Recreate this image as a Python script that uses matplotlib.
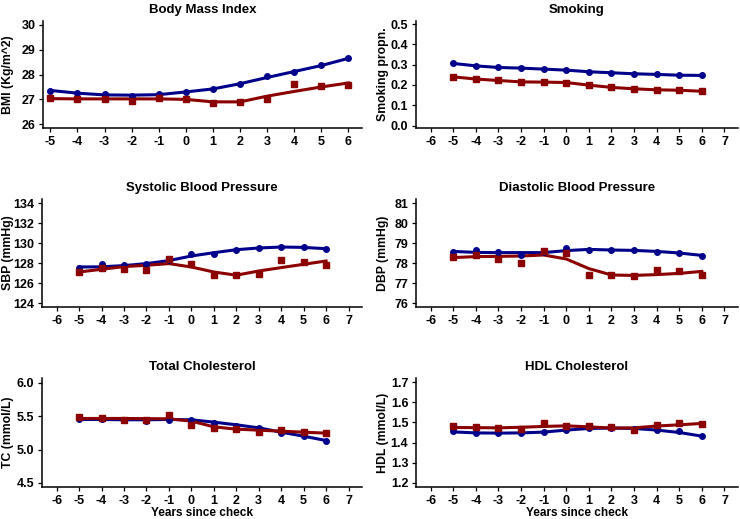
#!/usr/bin/env python
# -*- coding: utf-8 -*-
"""Risk factor trajectories before and after a health check."""
import matplotlib
import matplotlib.pyplot as plt

matplotlib.use("agg")

BLUE = "#00008B"
RED = "#8B0000"

years = [-5, -4, -3, -2, -1, 0, 1, 2, 3, 4, 5, 6]

# Body Mass Index
bmi_blue = [27.35, 27.25, 27.2, 27.15, 27.22, 27.31, 27.42, 27.63, 27.92, 28.1, 28.37, 28.68]
bmi_blue_fit = [27.36, 27.25, 27.18, 27.17, 27.19, 27.3, 27.42, 27.63, 27.88, 28.12, 28.36, 28.65]
bmi_red = [27.05, 27.02, 27.0, 26.94, 27.07, 27.02, 26.86, 26.9, 27.0, 27.6, 27.55, 27.56]
bmi_red_fit = [27.03, 27.02, 27.02, 27.02, 27.02, 27.0, 26.9, 26.9, 27.13, 27.32, 27.5, 27.66]

# Smoking
smk_blue = [0.306, 0.294, 0.286, 0.283, 0.278, 0.273, 0.265, 0.26, 0.255, 0.252, 0.248, 0.247]
smk_red = [0.24, 0.229, 0.222, 0.215, 0.214, 0.212, 0.199, 0.188, 0.181, 0.176, 0.174, 0.169]

# Systolic blood pressure
sbp_blue = [127.5, 127.9, 127.84, 127.87, 128.27, 128.87, 128.93, 129.3, 129.5, 129.56, 129.63, 129.43]
sbp_blue_fit = [127.6, 127.62, 127.74, 127.94, 128.24, 128.7, 129.03, 129.33, 129.5, 129.6, 129.56, 129.43]
sbp_red = [127.1, 127.47, 127.37, 127.28, 128.43, 127.87, 126.85, 126.85, 126.95, 128.34, 128.14, 127.84]
sbp_red_fit = [127.1, 127.37, 127.64, 127.77, 127.94, 127.6, 127.1, 126.78, 127.2, 127.54, 127.87, 128.2]

# Diastolic blood pressure
dbp_blue = [78.55, 78.67, 78.55, 78.38, 78.55, 78.73, 78.63, 78.63, 78.65, 78.55, 78.48, 78.37]
dbp_blue_fit = [78.58, 78.53, 78.52, 78.52, 78.52, 78.62, 78.68, 78.65, 78.63, 78.58, 78.5, 78.38]
dbp_red = [78.3, 78.4, 78.18, 78.0, 78.6, 78.5, 77.42, 77.38, 77.37, 77.67, 77.6, 77.42]
dbp_red_fit = [78.27, 78.32, 78.33, 78.35, 78.4, 78.2, 77.72, 77.4, 77.38, 77.42, 77.48, 77.58]

# Total cholesterol
tc_blue = [5.45, 5.45, 5.44, 5.425, 5.44, 5.44, 5.395, 5.355, 5.32, 5.255, 5.205, 5.135]
tc_blue_fit = [5.45, 5.45, 5.445, 5.445, 5.45, 5.445, 5.41, 5.37, 5.325, 5.26, 5.2, 5.135]
tc_red = [5.48, 5.465, 5.44, 5.435, 5.515, 5.365, 5.325, 5.31, 5.265, 5.295, 5.26, 5.245]
tc_red_fit = [5.465, 5.465, 5.465, 5.462, 5.46, 5.425, 5.34, 5.305, 5.29, 5.275, 5.26, 5.245]

# HDL cholesterol
hdl_blue = [1.455, 1.45, 1.447, 1.448, 1.453, 1.463, 1.473, 1.472, 1.468, 1.462, 1.457, 1.432]
hdl_blue_fit = [1.453, 1.448, 1.447, 1.448, 1.452, 1.462, 1.47, 1.472, 1.47, 1.462, 1.45, 1.432]
hdl_red = [1.48, 1.475, 1.47, 1.468, 1.497, 1.483, 1.48, 1.475, 1.463, 1.487, 1.498, 1.493]
hdl_red_fit = [1.475, 1.474, 1.473, 1.476, 1.48, 1.483, 1.478, 1.472, 1.473, 1.482, 1.488, 1.495]

FONT = {"family": "Liberation Sans", "weight": "bold", "size": 9}
W, H = 740.0, 519.0


def panel(fig, box, title, ylabel, blue, blue_fit, red, red_fit,
          ylim, yticks, yfmt, xticks, xlim, label_x, xlabel=None):
    """Draw one risk factor panel; box is (left, right, top, bottom) in pixels."""
    left, right, top, bottom = box
    ax = fig.add_axes([left / W, 1 - bottom / H, (right - left) / W, (bottom - top) / H])
    ax.plot(years, blue_fit, color=BLUE, lw=2.2, zorder=2)
    ax.plot(years, red_fit, color=RED, lw=2.2, zorder=2)
    ax.plot(years, blue, "o", color=BLUE, ms=4, zorder=3)
    ax.plot(years, red, "s", color=RED, ms=4.8, zorder=3)
    ax.set_xlim(*xlim)
    ax.set_ylim(*ylim)
    ax.set_xticks(xticks)
    ax.set_xticklabels([str(t) for t in xticks], fontdict=FONT)
    ax.set_yticks(yticks)
    ax.set_yticklabels([yfmt.format(t) for t in yticks], fontdict=FONT)
    ax.set_title(title, fontdict=dict(FONT, size=9.5), pad=6)
    ax.set_ylabel(ylabel, fontdict=dict(FONT, size=8.8))
    # put the y label right edge at a fixed pixel column
    ax.yaxis.set_label_coords((label_x - left) / (right - left), 0.5)
    if xlabel:
        ax.set_xlabel(xlabel, fontdict=dict(FONT, size=8.5), labelpad=0)
    for side in ("top", "right"):
        ax.spines[side].set_visible(False)
    for side in ("left", "bottom"):
        ax.spines[side].set_linewidth(1.1)
    ax.tick_params(length=3, width=0.9, pad=2.5, colors="black")
    return ax


def make_plots():
    fig = plt.figure(figsize=(7.4, 5.19), dpi=100)

    wide = list(range(-6, 8))
    wide_lim = (-6.65, 7.6)

    panel(fig, (43, 362, 21, 128), "Body Mass Index", "BMI (Kg/m^2)",
          bmi_blue, bmi_blue_fit, bmi_red, bmi_red_fit,
          (25.85, 30.15), [26, 27, 28, 29, 30], "{:.0f}", years, (-5.27, 6.5), 14)
    panel(fig, (416, 738, 21, 128), "Smoking", "Smoking propn.",
          smk_blue, smk_blue, smk_red, smk_red,
          (-0.012, 0.515), [0.0, 0.1, 0.2, 0.3, 0.4, 0.5], "{:.1f}", wide, wide_lim, 389)
    panel(fig, (42, 362, 199, 307), "Systolic Blood Pressure", "SBP (mmHg)",
          sbp_blue, sbp_blue_fit, sbp_red, sbp_red_fit,
          (123.6, 134.4), [124, 126, 128, 130, 132, 134], "{:.0f}", wide, wide_lim, 14)
    panel(fig, (416, 738, 199, 307), "Diastolic Blood Pressure", "DBP (mmHg)",
          dbp_blue, dbp_blue_fit, dbp_red, dbp_red_fit,
          (75.8, 81.2), [76, 77, 78, 79, 80, 81], "{:.0f}", wide, wide_lim, 389)
    panel(fig, (42, 362, 378, 487), "Total Cholesterol", "TC (mmol/L)",
          tc_blue, tc_blue_fit, tc_red, tc_red_fit,
          (4.44, 6.07), [4.5, 5.0, 5.5, 6.0], "{:.1f}", wide, wide_lim, 14,
          xlabel="Years since check")
    panel(fig, (416, 738, 378, 487), "HDL Cholesterol", "HDL (mmol/L)",
          hdl_blue, hdl_blue_fit, hdl_red, hdl_red_fit,
          (1.18, 1.72), [1.2, 1.3, 1.4, 1.5, 1.6, 1.7], "{:.1f}", wide, wide_lim, 389,
          xlabel="Years since check")

    fig.savefig("out.png", dpi=100)


if __name__ == "__main__":
    make_plots()
